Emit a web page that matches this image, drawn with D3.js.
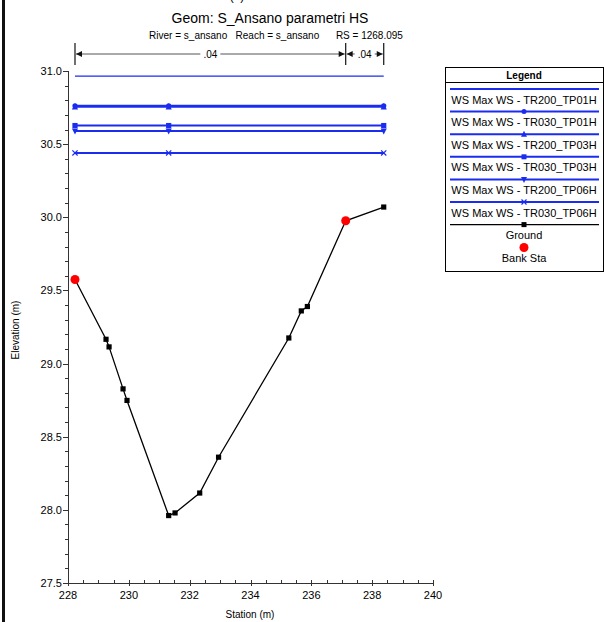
<!DOCTYPE html>
<html><head><meta charset="utf-8">
<script src="https://cdn.jsdelivr.net/npm/d3@7"></script>
<style>body{margin:0;background:#fff}svg{display:block;font-family:Arial,"Liberation Sans",sans-serif}</style>
</head><body><svg id="c" width="604" height="622"></svg>
<script>
const groundStation = [228.23,229.25,229.35,229.81,229.94,231.31,231.52,232.33,232.95,235.26,235.67,235.87,237.13,238.38];
const groundElev    = [29.575,29.166,29.114,28.827,28.748,27.961,27.979,28.115,28.36,29.175,29.36,29.39,29.976,30.07];
const bankStation = [228.23,237.13];
const bankElev = [29.575,29.976];
const wsNames = ["WS Max WS - TR200_TP01H","WS Max WS - TR030_TP01H","WS Max WS - TR200_TP03H","WS Max WS - TR030_TP03H","WS Max WS - TR200_TP06H","WS Max WS - TR030_TP06H"];
const wsElev = [30.965,30.762,30.755,30.627,30.59,30.44];
const wsMarker = ["none","circle","triangle","square","triangledown","x"];
const wsStations = [228.23,231.31,238.38];
const nStations = [228.23,237.13,238.38];
const nValues = [".04",".04"];
const xTicks = [228,230,232,234,236,238,240];
const yTicks = [27.5,28.0,28.5,29.0,29.5,30.0,30.5,31.0];
const titleText = "Geom: S_Ansano parametri HS";
const subText = "River = s_ansano   Reach = s_ansano      RS = 1268.095";

const svg = d3.select("#c");
const x = d3.scaleLinear().domain([228,240]).range([68,433]);
const y = d3.scaleLinear().domain([27.5,31]).range([583,71]);
const blue = "#1a2cf0";

// left border
svg.append("rect").attr("x",2).attr("y",0).attr("width",3).attr("height",622).attr("fill","#111");

// cut-off line at very top (only parentheses descenders visible)
svg.append("text").attr("x",237).attr("y",0).attr("text-anchor","middle").attr("font-size",12).text("(?)");

svg.append("text").attr("x",270).attr("y",23).attr("text-anchor","middle").attr("font-size",14).text(titleText);
svg.append("text").attr("x",276).attr("y",39).attr("text-anchor","middle").attr("font-size",10).style("white-space","pre").text(subText);

// axes
const axCol = "#333";
const yAx = svg.append("g").attr("transform","translate(68,0)");
yAx.append("line").attr("x1",0.5).attr("x2",0.5).attr("y1",y(31)).attr("y2",y(27.5)).attr("stroke",axCol);
const yMinor = d3.range(27.5,31.0001,0.1);
yAx.selectAll("line.mi").data(yMinor).join("line").attr("class","mi")
  .attr("x1",-3).attr("x2",0).attr("y1",d=>Math.round(y(d))+0.5).attr("y2",d=>Math.round(y(d))+0.5).attr("stroke",axCol);
yAx.selectAll("line.ma").data(yTicks).join("line").attr("class","ma")
  .attr("x1",-5).attr("x2",0).attr("y1",d=>Math.round(y(d))+0.5).attr("y2",d=>Math.round(y(d))+0.5).attr("stroke",axCol);
yAx.selectAll("text").data(yTicks).join("text").attr("x",-6).attr("y",d=>y(d)+4)
  .attr("text-anchor","end").attr("font-size",11).text(d=>d.toFixed(1));

const xAx = svg.append("g").attr("transform",`translate(0,${y(27.5)})`);
xAx.append("line").attr("x1",x(228)).attr("x2",x(240)).attr("y1",0.5).attr("y2",0.5).attr("stroke",axCol);
xAx.selectAll("line.mi").data(d3.range(228,240.001,0.5)).join("line").attr("class","mi")
  .attr("y1",-3).attr("y2",0).attr("x1",d=>Math.round(x(d))+0.5).attr("x2",d=>Math.round(x(d))+0.5).attr("stroke",axCol);
xAx.selectAll("line.ma").data(xTicks).join("line").attr("class","ma")
  .attr("y1",-3).attr("y2",3).attr("x1",d=>Math.round(x(d))+0.5).attr("x2",d=>Math.round(x(d))+0.5).attr("stroke",axCol);
xAx.selectAll("text").data(xTicks).join("text").attr("x",d=>x(d)).attr("y",16)
  .attr("text-anchor","middle").attr("font-size",11).text(d=>d);

svg.append("text").attr("x",250).attr("y",618).attr("text-anchor","middle").attr("font-size",10).text("Station (m)");
svg.append("text").attr("transform","translate(19,330) rotate(-90)").attr("text-anchor","middle").attr("font-size",10).text("Elevation (m)");

// manning n
const nY = 54;
const ng = svg.append("g");
nStations.forEach(s=>{
  ng.append("line").attr("x1",x(s)).attr("x2",x(s)).attr("y1",nY-11).attr("y2",nY+11).attr("stroke","#111").attr("stroke-width",1.2);
});
function arrowHead(g,px,dir){
  g.append("path").attr("d",`M${px},${nY} l${-dir*6},-3 l0,6 z`).attr("fill","#111");
}
for(let i=0;i<nValues.length;i++){
  const a=x(nStations[i]),b=x(nStations[i+1]);
  const mid=(a+b)/2;
  const tw = 16;
  ng.append("line").attr("x1",a+1).attr("x2",mid-tw/2-2).attr("y1",nY).attr("y2",nY).attr("stroke","#555");
  ng.append("line").attr("x1",mid+tw/2+2).attr("x2",b-1).attr("y1",nY).attr("y2",nY).attr("stroke","#555");
  arrowHead(ng,a+1,-1);
  arrowHead(ng,b-1,1);
  ng.append("text").attr("x",mid).attr("y",nY+4).attr("text-anchor","middle").attr("font-size",10).text(nValues[i]);
}

function marker(g,type,cx,cy,col,s){
  s = s||3;
  if(type==="circle") g.append("circle").attr("cx",cx).attr("cy",cy).attr("r",s).attr("fill",col);
  else if(type==="square") g.append("rect").attr("x",cx-s).attr("y",cy-s).attr("width",2*s).attr("height",2*s).attr("fill",col);
  else if(type==="triangle") g.append("path").attr("d",`M${cx},${cy-s-1} L${cx+s+0.5},${cy+s} L${cx-s-0.5},${cy+s} Z`).attr("fill",col);
  else if(type==="triangledown") g.append("path").attr("d",`M${cx},${cy+s+1} L${cx+s+0.5},${cy-s} L${cx-s-0.5},${cy-s} Z`).attr("fill",col);
  else if(type==="x") g.append("path").attr("d",`M${cx-s},${cy-s} L${cx+s},${cy+s} M${cx-s},${cy+s} L${cx+s},${cy-s}`).attr("stroke",col).attr("stroke-width",1.2);
}

// WS lines
const wg = svg.append("g");
const line = d3.line().x(d=>x(d[0])).y(d=>y(d[1]));
wsElev.forEach((e,i)=>{
  const pts = wsStations.map(s=>[s,e]);
  wg.append("path").attr("d",line(pts)).attr("fill","none").attr("stroke",blue).attr("stroke-width",i===0?1.3:2);
  if(wsMarker[i]!=="none") pts.forEach(p=>marker(wg,wsMarker[i],x(p[0]),y(p[1]),blue,2.6));
});

// ground
const gpts = groundStation.map((s,i)=>[s,groundElev[i]]);
svg.append("path").attr("d",line(gpts)).attr("fill","none").attr("stroke","#000").attr("stroke-width",1.3);
const gg = svg.append("g");
gpts.forEach(p=>marker(gg,"square",x(p[0]),y(p[1]),"#000",2.6));
bankStation.forEach((s,i)=>{
  svg.append("circle").attr("cx",x(s)).attr("cy",y(bankElev[i])).attr("r",4.5).attr("fill","#f00");
});

// legend
const lg = svg.append("g");
const L={x:445,y:67,w:158,h:204};
lg.append("rect").attr("x",L.x+0.5).attr("y",L.y+0.5).attr("width",L.w).attr("height",L.h).attr("fill","#fff").attr("stroke","#000");
lg.append("line").attr("x1",L.x).attr("x2",L.x+L.w).attr("y1",L.y+15.5).attr("y2",L.y+15.5).attr("stroke","#000");
lg.append("text").attr("x",L.x+L.w/2).attr("y",L.y+11.5).attr("text-anchor","middle").attr("font-size",10).attr("font-weight","bold").text("Legend");
const cx = L.x+L.w/2;
const entries = wsNames.map((n,i)=>({name:n,col:blue,m:wsMarker[i]})).concat([{name:"Ground",col:"#000",m:"square"}]);
entries.forEach((e,i)=>{
  const ly = 89 + i*22.6;
  lg.append("line").attr("x1",450).attr("x2",599).attr("y1",ly).attr("y2",ly).attr("stroke",e.col).attr("stroke-width",e.col==="#000"?1.3:2);
  if(e.m!=="none") marker(lg,e.m,cx,ly,e.col,2.5);
  lg.append("text").attr("x",cx).attr("y",ly+14.5).attr("text-anchor","middle").attr("font-size",11).text(e.name);
});
lg.append("circle").attr("cx",cx).attr("cy",247.5).attr("r",4.5).attr("fill","#f00");
lg.append("text").attr("x",cx).attr("y",262).attr("text-anchor","middle").attr("font-size",11).text("Bank Sta");
</script></body></html>
